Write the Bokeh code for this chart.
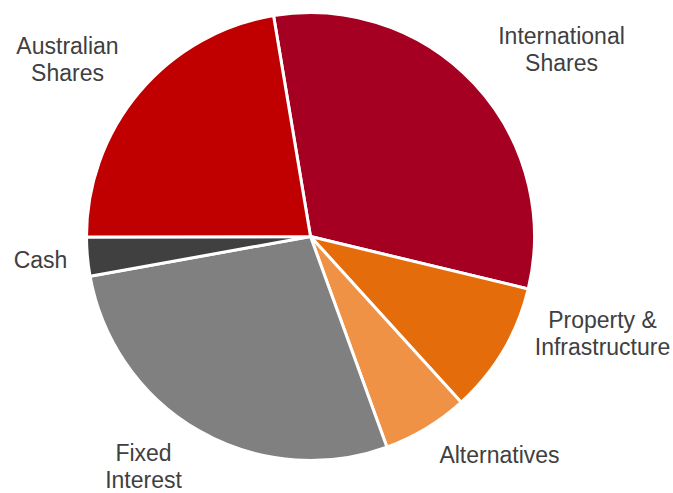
import numpy as np
from bokeh.plotting import figure
from bokeh.models import ColumnDataSource, Range1d
from bokeh.core.properties import value
from bokeh.embed import file_html
from bokeh.resources import INLINE

# ---- data ----
categories = ["International Shares", "Property & Infrastructure", "Alternatives",
              "Fixed Interest", "Cash", "Australian Shares"]
values = [31.4, 9.5, 6.2, 27.7, 2.8, 22.4]
labels = ["International\nShares", "Property &\nInfrastructure", "Alternatives",
          "Fixed\nInterest", "Cash", "Australian\nShares"]
colors = ["#A50021", "#E46C0A", "#EF9245", "#808080", "#404040", "#C00000"]

# ---- layout (pixel-like data space) ----
W, H = 673, 493
cx, cy, R = 310, 257, 224          # pie centre / radius
start_deg = -9.5                   # clockwise from 12 o'clock
# first-line label anchor (centre x, baseline y) in data coords
label_pos = [(561, 458), (602, 174), (499, 39), (143, 41), (40, 234), (67, 448)]
line_gap = 27

vals = np.array(values, dtype=float)
frac = vals / vals.sum()
cum = np.concatenate([[0], np.cumsum(frac)]) * 360.0 + start_deg
theta0, theta1 = cum[:-1], cum[1:]
src = ColumnDataSource(dict(
    cat=categories, val=values, color=colors,
    start=np.radians(90 - theta0), end=np.radians(90 - theta1),
))

p = figure(width=W, height=H, output_backend="svg", toolbar_location=None,
           x_range=Range1d(0, W), y_range=Range1d(0, H), min_border=0,
           match_aspect=False)
p.axis.visible = False
p.grid.visible = False
p.outline_line_color = None
p.background_fill_color = "white"

p.wedge(x=cx, y=cy, radius=R, start_angle="start", end_angle="end",
        direction="clock", fill_color="color", line_color="white",
        line_width=3, source=src)

tx, ty, tt = [], [], []
for lab, (x0, y0) in zip(labels, label_pos):
    for i, line in enumerate(lab.split("\n")):
        tx.append(x0)
        ty.append(y0 - i * line_gap)
        tt.append(line)
p.text(x=tx, y=ty, text=tt, text_align="center", text_baseline="alphabetic",
       text_font=value("Liberation Sans"), text_font_size="23px",
       text_color="#404040")

open("out.html", "w").write(file_html(p, INLINE))
